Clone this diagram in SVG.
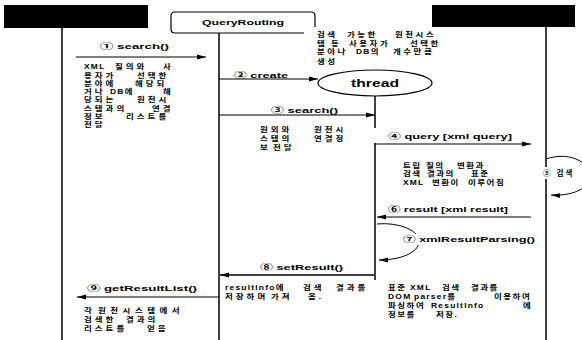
<svg xmlns="http://www.w3.org/2000/svg" width="582" height="340" viewBox="0 0 582 340">
<style>
.t{font-family:"Liberation Sans","Noto Sans CJK KR",sans-serif;font-size:7.5px;font-weight:bold;fill:#000}
.k{font-family:"Liberation Sans","Noto Sans CJK KR",sans-serif;font-size:8.5px;font-weight:bold;fill:#000;letter-spacing:3px}
.k .l{letter-spacing:1.2px}
.w{letter-spacing:2.5px}
.n{letter-spacing:1.5px}
.ll{stroke:#000;stroke-width:1.5;fill:none}
.msg{stroke:#000;stroke-width:1;fill:none}
</style>
<defs>
<marker id="ah" markerUnits="userSpaceOnUse" markerWidth="10" markerHeight="6" refX="9" refY="3" orient="auto">
<path d="M0,0.5 L9,3 L0,5.5 Z" fill="#000"/>
</marker>
</defs>
<rect width="582" height="340" fill="#fff"/>

<g id="client">
<rect x="4" y="5" width="144" height="23" fill="#000"/>
<line class="ll" x1="62" y1="28" x2="62" y2="340"/>
</g>

<g id="queryrouting">
<path d="M304,33 L175,33 Q171,33 171,29 L171,16 Q171,12 175,12 L311,12 Q315,12 315,16 L315,27" fill="none" stroke="#000" stroke-width="1.2"/>
<text class="t" x="243" y="25" text-anchor="middle" textLength="82" lengthAdjust="spacingAndGlyphs">QueryRouting</text>
<line class="ll" x1="219" y1="33" x2="219" y2="340"/>
</g>

<g id="thread">
<ellipse cx="375" cy="83" rx="57" ry="13" fill="#fff" stroke="#000" stroke-width="1.2"/>
<text class="t" x="375" y="87" text-anchor="middle" textLength="48" lengthAdjust="spacingAndGlyphs" style="font-size:11px">thread</text>
<line class="ll" x1="375" y1="96" x2="375" y2="128"/>
<line class="ll" x1="375" y1="143" x2="375" y2="280"/>
</g>

<g id="source">
<rect x="432" y="5" width="143" height="22" fill="#000"/>
<line class="ll" x1="546" y1="27" x2="546" y2="340"/>
</g>

<g id="connectors">
<line class="msg" x1="76" y1="57" x2="206" y2="57" marker-end="url(#ah)"/>
<line class="msg" x1="219" y1="79" x2="318" y2="79" marker-end="url(#ah)"/>
<line class="msg" x1="219" y1="115" x2="375" y2="115" marker-end="url(#ah)"/>
<line class="msg" x1="375" y1="144" x2="531" y2="144" marker-end="url(#ah)"/>
<path class="msg" d="M546,159 C572,150 594,165 589,180 C585,192 566,196 551,195" marker-end="url(#ah)"/>
<line class="msg" x1="531" y1="217" x2="377" y2="217" marker-end="url(#ah)"/>
<path class="msg" d="M377,224 C400,222 420,231 419,242 C418,253 400,260 379,260" marker-end="url(#ah)"/>
<line x1="374" y1="275" x2="220" y2="275" stroke="#000" stroke-width="1.6" marker-end="url(#ah)"/>
<line class="msg" x1="219" y1="297" x2="77" y2="297" marker-end="url(#ah)"/>
</g>

<g id="labels">
<text class="t" x="100" y="49" textLength="69" lengthAdjust="spacingAndGlyphs">① search()</text>
<text class="t" x="234" y="78" textLength="54" lengthAdjust="spacingAndGlyphs">② create</text>
<text class="t" x="271" y="113" textLength="67" lengthAdjust="spacingAndGlyphs">③ search()</text>
<text class="t" x="388" y="139" textLength="124" lengthAdjust="spacingAndGlyphs">④ query [xml query]</text>
<rect x="541" y="167" width="41" height="12" fill="#fff"/>
<text class="t" x="543" y="176" style="letter-spacing:2px">⑤ 검색</text>
<text class="t" x="388" y="212" textLength="120" lengthAdjust="spacingAndGlyphs">⑥ result [xml result]</text>
<rect x="402" y="234" width="134" height="11" fill="#fff"/>
<text class="t" x="403" y="242" textLength="132" lengthAdjust="spacingAndGlyphs">⑦ xmlResultParsing()</text>
<text class="t" x="260" y="270" textLength="83" lengthAdjust="spacingAndGlyphs">⑧ setResult()</text>
<text class="t" x="87" y="291" textLength="110" lengthAdjust="spacingAndGlyphs">⑨ getResultList()</text>
</g>

<g id="notes" transform="scale(1,0.8)">
<text class="k" y="86.25"><tspan class="l" x="84">XML</tspan><tspan x="115">질의와</tspan><tspan x="163">사</tspan></text>
<text class="k" y="96.9"><tspan x="84">용자가</tspan><tspan x="137">선택한</tspan></text>
<text class="k" y="107.5"><tspan x="84">분야에</tspan><tspan x="135">해당되</tspan></text>
<text class="k" y="117.5"><tspan x="84">거나</tspan><tspan class="l" x="110">DB에</tspan><tspan x="163">해</tspan></text>
<text class="k" y="128.1"><tspan x="84">당되는</tspan><tspan x="137">원천시</tspan></text>
<text class="k" y="138.75"><tspan x="84">스템과의</tspan><tspan x="152">연결</tspan></text>
<text class="k" y="148.75"><tspan x="84">정보</tspan><tspan x="126">리스트를</tspan></text>
<text class="k" y="158.75"><tspan x="84">전달</tspan></text>

<text class="k w" y="46.25"><tspan x="317">검색</tspan><tspan x="347">가능한</tspan><tspan x="395">원천시스</tspan></text>
<text class="k w" y="57.5"><tspan x="317">템</tspan><tspan x="331">등</tspan><tspan x="349">사용자가</tspan><tspan x="410">선택한</tspan></text>
<text class="k w" y="68.1"><tspan x="317">분야나</tspan><tspan class="l" x="356">DB의</tspan><tspan x="393">개수만큼</tspan></text>
<text class="k w" y="79.4"><tspan x="317">생성</tspan></text>

<text class="k" y="165"><tspan x="260">원외와</tspan><tspan x="314">원천시</tspan></text>
<text class="k" y="176.25"><tspan x="260">스템의</tspan><tspan x="314">연결정</tspan></text>
<text class="k" y="187.5"><tspan x="260">보</tspan><tspan x="273">전달</tspan></text>

<text class="k n" y="210"><tspan x="403">트립</tspan><tspan x="426">질의</tspan><tspan x="457">변환과</tspan></text>
<text class="k n" y="220.6"><tspan x="403">검색</tspan><tspan x="427">결과의</tspan><tspan x="471">표준</tspan></text>
<text class="k n" y="231.25"><tspan class="l" x="403">XML</tspan><tspan x="432">변환이</tspan><tspan x="468">이루어짐</tspan></text>

<text class="k" y="362.5"><tspan class="l" x="225">resultInfo에</tspan><tspan x="303">검색</tspan><tspan x="336">결과를</tspan></text>
<text class="k" y="373.75"><tspan x="225">저장하며</tspan><tspan x="271">가져</tspan><tspan x="308">옴.</tspan></text>

<text class="k" y="391.25"><tspan x="84">각</tspan><tspan x="98" style="letter-spacing:4.5px">원천시스템에서</tspan></text>
<text class="k" y="401.9"><tspan x="84">검색한</tspan><tspan x="126">결과의</tspan></text>
<text class="k" y="413.75"><tspan x="84">리스트를</tspan><tspan x="147">얻음</tspan></text>

<text class="k n" y="362.5"><tspan x="388">표준</tspan><tspan class="l" x="410">XML</tspan><tspan x="442">검색</tspan><tspan x="471">결과를</tspan></text>
<text class="k n" y="373.75"><tspan class="l" x="388">DOM</tspan><tspan class="l" x="414">parser를</tspan><tspan x="494">이용하여</tspan></text>
<text class="k n" y="384.4"><tspan x="388">파싱하여</tspan><tspan class="l" x="431">ResultInfo</tspan><tspan x="523">에</tspan></text>
<text class="k n" y="396.25"><tspan x="388">정보를</tspan><tspan x="436">저장.</tspan></text>
</g>
</svg>
